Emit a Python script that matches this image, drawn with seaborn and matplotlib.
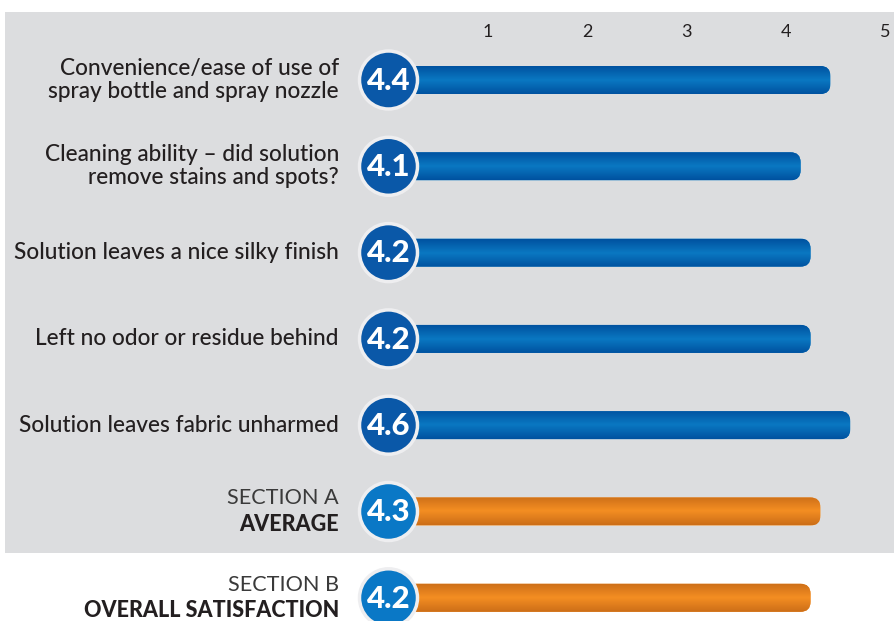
import numpy as np
import pandas as pd
import matplotlib
matplotlib.use("Agg")
import matplotlib.pyplot as plt
import seaborn as sns
from matplotlib.patches import FancyBboxPatch, Rectangle

# ---- data ----
labels = [
    "Convenience/ease of use of\nspray bottle and spray nozzle",
    "Cleaning ability \u2013 did solution\nremove stains and spots?",
    "Solution leaves a nice silky finish",
    "Left no odor or residue behind",
    "Solution leaves fabric unharmed",
    "SECTION A",
    "SECTION B",
]
section_bold = ["", "", "", "", "", "AVERAGE", "OVERALL SATISFACTION"]
scores = [4.4, 4.1, 4.2, 4.2, 4.6, 4.3, 4.2]
kinds = ["item", "item", "item", "item", "item", "summary", "summary"]
tick_values = [1, 2, 3, 4, 5]

df = pd.DataFrame({"row": list(range(len(scores))), "score": scores, "kind": kinds})

W, H = 895, 621
sns.set_theme(style="white")
plt.rcParams["font.family"] = ["Lato", "DejaVu Sans"]

fig = plt.figure(figsize=(W / 100, H / 100), dpi=100)
fig.patch.set_facecolor("white")
ax = fig.add_axes([0, 0, 1, 1])
ax.set_facecolor("none")

# pixel mapping
x0px, xu = 388.5, 99.3   # value 0 at x px, px per unit
y0px, yu = 80.0, 86.3    # row 0 center, px per row

# grey panel
ax.add_patch(Rectangle((5 / W, (H - 553) / H), 890 / W, 541 / H,
                       transform=fig.transFigure, facecolor="#dcdddf",
                       edgecolor="none", zorder=0))

blue_edge, blue_mid = "#0052a0", "#0a78c2"
orng_edge, orng_mid = "#cc6e18", "#f48e22"
palette = {"item": blue_mid, "summary": orng_mid}
grads = {"item": (blue_edge, blue_mid), "summary": (orng_edge, orng_mid)}

sns.barplot(data=df, x="score", y="row", hue="kind", palette=palette, orient="h",
            width=28 / yu, dodge=False, legend=False, ax=ax)
ax.set_xlabel("")
ax.set_ylabel("")

ax.set_xlim(-x0px / xu, (W - x0px) / xu)
ax.set_ylim((H - y0px) / yu, (0 - y0px) / yu)

# convert bars to rounded gradient bars
aspect = xu / yu
for p in list(ax.patches):
    if p.get_zorder() == 0:
        continue
    x, y = p.get_x(), p.get_y()
    w, h = p.get_width(), p.get_height()
    if not np.isfinite(w) or w <= 0:
        continue
    row = int(round(y + h / 2))
    edge, mid = grads[kinds[row]]
    p.remove()
    r = 10 / xu
    fb = FancyBboxPatch((x, y), w + 0.05, h, boxstyle=f"round,pad=0,rounding_size={r}",
                        mutation_aspect=aspect, facecolor=mid, edgecolor="none", zorder=2)
    ax.add_patch(fb)
    cmap = matplotlib.colors.LinearSegmentedColormap.from_list("g", [edge, mid, edge])
    grad = np.linspace(0, 1, 64).reshape(-1, 1)
    im = ax.imshow(grad, cmap=cmap, aspect="auto", extent=(x, x + w + 0.05, y + h, y),
                   zorder=3, interpolation="bilinear")
    im.set_clip_path(fb)

ax.set_xlim(-x0px / xu, (W - x0px) / xu)
ax.set_ylim((H - y0px) / yu, (0 - y0px) / yu)

# score circles
circ_colors = ["#0a58a8" if k == "item" else "#0a78c6" for k in kinds]
ax.scatter([0] * len(scores), df["row"], s=(58 * 0.72) ** 2, c=circ_colors,
           edgecolors="#eeeef0", linewidths=2.5, zorder=5)
for i, v in enumerate(scores):
    ax.text(0, i + 0.01, f"{v:.1f}", ha="center", va="center", color="white",
            fontsize=22.5, fontweight="black", zorder=6)

# row labels
lx = (339 - x0px) / xu
for i, lab in enumerate(labels):
    if kinds[i] == "item":
        ax.text(lx, i, lab, ha="right", va="center", fontsize=16.3, color="#231f20",
                fontweight="medium", linespacing=1.12)
    else:
        ax.text(lx, i - 13 / yu, lab, ha="right", va="center", fontsize=15.6,
                color="#3a3a3a", fontweight="normal")
        ax.text(lx, i + 13 / yu, section_bold[i], ha="right", va="center", fontsize=15.5,
                color="#231f20", fontweight="black")

# top tick labels
ax.set_xticks(tick_values)
ax.set_xticklabels([str(t) for t in tick_values])
ax.set_yticks([])
ax.tick_params(axis="x", top=True, bottom=False, labeltop=True, labelbottom=False,
               length=0, pad=-29, labelsize=13, labelcolor="#231f20")
for s in ax.spines.values():
    s.set_visible(False)

fig.savefig("out.png", dpi=100)
